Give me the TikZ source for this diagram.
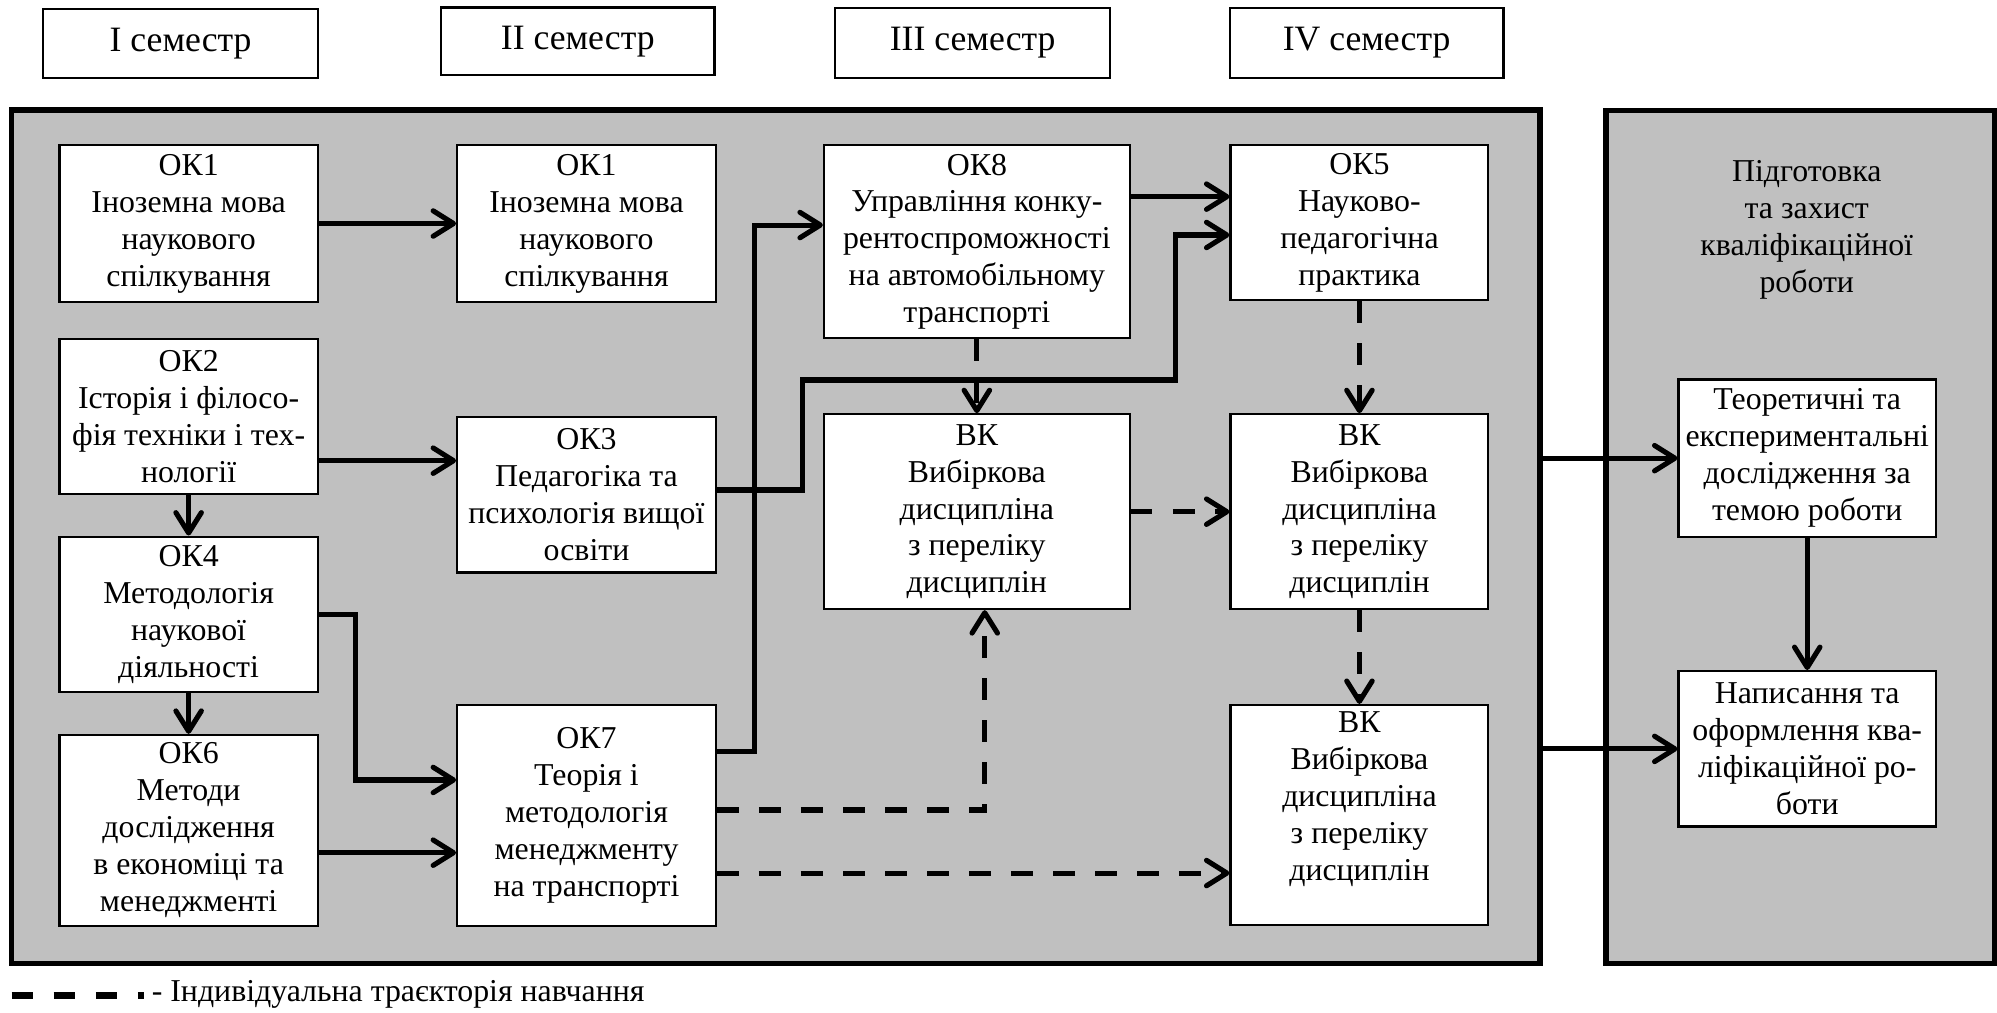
\documentclass[tikz,border=0pt]{standalone}
\usepackage{fontspec}
\setmainfont{Liberation Serif}
\usetikzlibrary{arrows.meta,calc}
\definecolor{panelgrey}{RGB}{192,192,192}
\newcommand{\bodyfont}{\rmfamily\fontsize{25}{29}\selectfont}
\newcommand{\headfont}{\rmfamily\fontsize{28}{32}\selectfont}
\begin{document}
\begin{tikzpicture}[x=1pt,y=-1pt,
  panel/.style={draw, line width=4.2pt, fill=panelgrey, inner sep=0pt},
  box/.style={draw, line width=1.8pt, fill=white, inner sep=0pt, align=center, font=\bodyfont},
  head/.style={draw, line width=1.8pt, fill=white, inner sep=0pt, align=center, font=\headfont},
  plain/.style={inner sep=0pt, align=center, font=\bodyfont},
  conn/.style={line width=4pt, -{Straight Barb[length=16pt,width=20pt,round]}},
  dconn/.style={conn, dash pattern=on 17pt off 16pt},
]
\useasboundingbox (0,0) rectangle (1568,795);

% semester headers
\node[head, minimum width=215.6pt, minimum height=53.7pt] (h1) at (141.8,34.15) {I семестр};
\node[head, minimum width=214.7pt, minimum height=53.1pt] (h2) at (453.65,32.35) {II семестр};
\node[head, minimum width=215.8pt, minimum height=54.5pt] (h3) at (763.7,33.75) {III семестр};
\node[head, minimum width=215pt, minimum height=54.5pt] (h4) at (1073,33.75) {IV семестр};

% panels
\node[panel, minimum width=1200.2pt, minimum height=669.9pt] (main) at (609.1,421.45) {};
\node[panel, minimum width=305.4pt, minimum height=669.5pt] (prep) at (1413.7,421.65) {};
\node[plain] (preptitle) at (1418.6,180.7) {Підготовка\\та захист\\кваліфікаційної\\роботи};

% column 1
\node[box, minimum width=202.8pt, minimum height=123pt] (ok1a) at (148.1,175.5) {ОК1\\Іноземна мова\\наукового\\спілкування};
\node[box, minimum width=202.8pt, minimum height=121.9pt] (ok2) at (148.1,327.15) {ОК2\\Історія і філосо-\\фія техніки і тех-\\нології};
\node[box, minimum width=202.8pt, minimum height=121.9pt] (ok4) at (148.1,482.35) {ОК4\\Методологія\\наукової\\діяльності};
\node[box, minimum width=202.8pt, minimum height=149.7pt] (ok6) at (148.1,651.95) {ОК6\\Методи\\дослідження\\в економіці та\\менеджменті};

% column 2
\node[box, minimum width=203pt, minimum height=123pt] (ok1b) at (460.5,175.5) {ОК1\\Іноземна мова\\наукового\\спілкування};
\node[box, minimum width=203pt, minimum height=122.4pt] (ok3) at (460.5,388.4) {ОК3\\Педагогіка та\\психологія вищої\\освіти};
\node[box, minimum width=203pt, minimum height=173.2pt] (ok7) at (460.5,640.2) {ОК7\\Теорія і\\методологія\\менеджменту\\на транспорті};

% column 3
\node[box, minimum width=240pt, minimum height=151.6pt] (ok8) at (767,189.8) {ОК8\\Управління конку-\\рентоспроможності\\на автомобільному\\транспорті};
\node[box, minimum width=240pt, minimum height=152.9pt] (vk1) at (767,401.75) {ВК\\Вибіркова\\дисципліна\\з переліку\\дисциплін};

% column 4
\node[box, minimum width=202.4pt, minimum height=121.6pt] (ok5) at (1067.4,174.8) {ОК5\\Науково-\\педагогічна\\практика};
\node[box, minimum width=202.4pt, minimum height=152.9pt] (vk2) at (1067.4,401.75) {ВК\\Вибіркова\\дисципліна\\з переліку\\дисциплін};
\node[box, minimum width=202.4pt, minimum height=172.9pt] (vk3) at (1067.4,640.05) {};
\node[plain, anchor=north] (vk3text) at ([yshift=-6pt]vk3.north) {ВК\\Вибіркова\\дисципліна\\з переліку\\дисциплін};

% right panel
\node[box, minimum width=202pt, minimum height=123.5pt] (r1) at (1419,359.75) {Теоретичні та\\експериментальні\\дослідження за\\темою роботи};
\node[box, minimum width=202pt, minimum height=122pt] (r2) at (1419,588) {Написання та\\оформлення ква-\\ліфікаційної ро-\\боти};

% solid connectors
\draw[conn] (ok1a.east) -- (ok1b.west);
\draw[conn] ([yshift=-34.55pt]ok2.east) -- ([yshift=-34.55pt]ok2.east -| ok3.west);
\draw[conn] (ok2.south) -- (ok4.north);
\draw[conn] (ok4.south) -- (ok6.north);
\draw[conn] (ok4.east) -- ++(28.4,0) |- ([yshift=27.8pt]ok7.west);
\draw[conn] ([yshift=-17.55pt]ok6.east) -- ([yshift=-17.55pt]ok6.east -| ok7.west);
\draw[conn] ([yshift=50.5pt]ok7.east) -- ++(29.5,0) |- ([yshift=13.1pt]ok8.west);
\draw[conn] ([yshift=3.7pt]ok3.east) -- ++(67.5,0) -- ++(0,-86.3) -- ++(292.7,0) |- ([yshift=-9.7pt]ok5.west);
\draw[conn] ([yshift=35.4pt]ok8.east) -- ([yshift=35.4pt]ok8.east -| ok5.west);
\draw[conn] (main.east |- r1.west) -- (r1.west);
\draw[conn] (main.east |- r2.west) -- (r2.west);
\draw[conn] (r1.south) -- (r2.north);

% dashed connectors
\draw[dconn] (ok8.south) -- (vk1.north);
\draw[dconn] (ok5.south) -- (vk2.north);
\draw[dconn] (vk1.east) -- (vk2.west);
\draw[dconn] (vk2.south) -- (vk3.north);
\draw[dconn] ([yshift=4.2pt]ok7.east) -| ([xshift=6.2pt]vk1.south);
\draw[dconn] ([yshift=-45.3pt]ok7.east) -- ([yshift=-45.3pt]ok7.east -| vk3.west);

% legend
\coordinate (lgA) at (9.2,781.5);
\coordinate (lgB) at (113,781.5);
\draw[line width=6pt, dash pattern=on 17pt off 16pt] (lgA) -- (lgB);
\node[font=\bodyfont, anchor=base west, inner sep=0pt] (legend) at (119,786.5) {- Індивідуальна траєкторія навчання};
\end{tikzpicture}
\end{document}
